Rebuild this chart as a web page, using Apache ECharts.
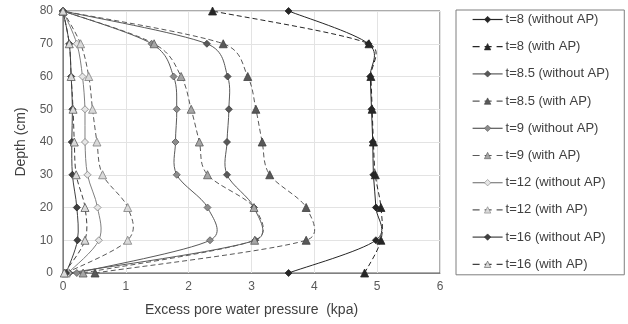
<!DOCTYPE html>
<html>
<head>
<meta charset="utf-8">
<script src="https://cdn.jsdelivr.net/npm/echarts@6/dist/echarts.min.js"></script>
<style>html,body{margin:0;padding:0;background:#fff}#c{width:628px;height:324px}</style>
</head>
<body>
<div id="c"></div>
<script>
var depths = [0, 10, 20, 30, 40, 50, 60, 70, 80];
var t8_noAP   = [3.59, 4.98, 4.98, 4.94, 4.93, 4.91, 4.89, 4.86, 3.59];
var t8_AP     = [4.80, 5.06, 5.06, 4.97, 4.94, 4.92, 4.90, 4.87, 2.38];
var t85_noAP  = [0.10, 3.06, 3.04, 2.61, 2.61, 2.64, 2.62, 2.29, 0];
var t85_AP    = [0.51, 3.87, 3.87, 3.29, 3.17, 3.07, 2.94, 2.55, 0];
var t9_noAP   = [0.22, 2.34, 2.30, 1.81, 1.79, 1.81, 1.76, 1.41, 0];
var t9_AP     = [0.32, 3.05, 3.04, 2.30, 2.17, 2.04, 1.88, 1.45, 0];
var t12_noAP  = [0.08, 0.57, 0.55, 0.39, 0.35, 0.35, 0.31, 0.22, 0];
var t12_AP    = [0.05, 1.03, 1.03, 0.63, 0.54, 0.47, 0.41, 0.28, 0];
var t16_noAP  = [0.05, 0.23, 0.22, 0.15, 0.14, 0.15, 0.13, 0.10, 0];
var t16_AP    = [0.02, 0.35, 0.35, 0.21, 0.18, 0.16, 0.13, 0.10, 0];
var xTicks = [0, 1, 2, 3, 4, 5, 6];
var yTicks = [0, 10, 20, 30, 40, 50, 60, 70, 80];

function pts(xs) { return xs.map(function (v, i) { return [v, depths[i]]; }); }

var defs = [
  { name: 't=8 (without AP)',   data: t8_noAP,  sym: 'diamond',  fill: '#262626', edge: '#262626', line: '#262626', dash: 'solid' },
  { name: 't=8 (with AP)',      data: t8_AP,    sym: 'triangle', fill: '#262626', edge: '#262626', line: '#262626', dash: [5, 3] },
  { name: 't=8.5 (without AP)', data: t85_noAP, sym: 'diamond',  fill: '#595959', edge: '#404040', line: '#595959', dash: 'solid' },
  { name: 't=8.5 (with AP)',    data: t85_AP,   sym: 'triangle', fill: '#595959', edge: '#404040', line: '#595959', dash: [5, 3] },
  { name: 't=9 (without AP)',   data: t9_noAP,  sym: 'diamond',  fill: '#8c8c8c', edge: '#595959', line: '#595959', dash: 'solid' },
  { name: 't=9 (with AP)',      data: t9_AP,    sym: 'triangle', fill: '#a6a6a6', edge: '#595959', line: '#595959', dash: [5, 3] },
  { name: 't=12 (without AP)',  data: t12_noAP, sym: 'diamond',  fill: '#e6e6e6', edge: '#7f7f7f', line: '#7f7f7f', dash: 'solid' },
  { name: 't=12 (with AP)',     data: t12_AP,   sym: 'triangle', fill: '#d9d9d9', edge: '#7f7f7f', line: '#595959', dash: [5, 3] },
  { name: 't=16 (without AP)',  data: t16_noAP, sym: 'diamond',  fill: '#404040', edge: '#262626', line: '#404040', dash: 'solid' },
  { name: 't=16 (with AP)',     data: t16_AP,   sym: 'triangle', fill: '#d9d9d9', edge: '#595959', line: '#404040', dash: [5, 3] }
];

// Excel-like smoothed curve through the axis-mapped data points
function handle(a, b, seg) {
  var hx = (b[0] - a[0]) / 6, hy = (b[1] - a[1]) / 6;
  var hl = Math.sqrt(hx * hx + hy * hy), lim = seg * 0.5;
  if (hl > lim && hl > 0) { hx *= lim / hl; hy *= lim / hl; }
  return [hx, hy];
}
function curveRenderer(d) {
  var data = pts(d.data);
  return function (params, api) {
    if (params.dataIndex !== 0) return null;
    var p = data.map(function (v) { return api.coord(v); });
    var n = p.length;
    var path = 'M' + p[0][0] + ' ' + p[0][1];
    for (var i = 0; i < n - 1; i++) {
      var p0 = p[i > 0 ? i - 1 : i], p1 = p[i], p2 = p[i + 1], p3 = p[i + 2 < n ? i + 2 : i + 1];
      var seg = Math.sqrt(Math.pow(p2[0] - p1[0], 2) + Math.pow(p2[1] - p1[1], 2));
      var h1 = handle(p0, p2, seg), h2 = handle(p1, p3, seg);
      path += ' C' + (p1[0] + h1[0]) + ' ' + (p1[1] + h1[1]) + ' ' + (p2[0] - h2[0]) + ' ' + (p2[1] - h2[1]) + ' ' + p2[0] + ' ' + p2[1];
    }
    return {
      type: 'path',
      shape: { pathData: path },
      style: { fill: 'none', stroke: d.line, lineWidth: 1, lineDash: d.dash === 'solid' ? null : d.dash }
    };
  };
}

var series = [];
defs.forEach(function (d) {
  series.push({
    name: d.name + ' curve',
    type: 'custom',
    coordinateSystem: 'cartesian2d',
    data: pts(d.data),
    encode: { x: 0, y: 1 },
    renderItem: curveRenderer(d),
    silent: true,
    z: 1
  });
});
defs.forEach(function (d) {
  series.push({
    name: d.name,
    type: 'line',
    data: pts(d.data),
    symbol: d.sym,
    symbolSize: d.sym === 'diamond' ? 7 : 8,
    showAllSymbol: true,
    itemStyle: { color: d.fill, borderColor: d.edge, borderWidth: 0.8 },
    lineStyle: { color: d.line, width: 0, opacity: 0, type: d.dash },
    z: 3
  });
});

var chart = echarts.init(document.getElementById('c'), null, { renderer: 'canvas' });
chart.setOption({
  animation: false,
  backgroundColor: '#fff',
  textStyle: { fontFamily: 'Liberation Sans' },
  grid: { left: 63, right: 188, top: 11, bottom: 51, show: true, borderColor: '#595959', borderWidth: 1 },
  xAxis: {
    type: 'value', min: 0, max: 6, interval: 1,
    name: 'Excess pore water pressure  (kpa)', nameLocation: 'middle', nameGap: 30,
    nameTextStyle: { fontSize: 14, color: '#404040', fontFamily: 'Liberation Sans' },
    axisLine: { show: true, lineStyle: { color: '#808080' } },
    axisTick: { show: false },
    axisLabel: { fontSize: 12, color: '#595959', margin: 8, formatter: function (v) { return xTicks.indexOf(v) >= 0 ? String(v) : ''; } },
    splitLine: { show: true, lineStyle: { color: '#e3e3e3', width: 1 } }
  },
  yAxis: {
    type: 'value', min: 0, max: 80, interval: 10,
    name: 'Depth (cm)', nameLocation: 'middle', nameGap: 35, nameRotate: 90,
    nameTextStyle: { fontSize: 14, color: '#404040', fontFamily: 'Liberation Sans' },
    axisLine: { show: true, lineStyle: { color: '#808080' } },
    axisTick: { show: false },
    axisLabel: { fontSize: 12, color: '#595959', margin: 10, formatter: function (v) { return yTicks.indexOf(v) >= 0 ? String(v) : ''; } },
    splitLine: { show: true, lineStyle: { color: '#e3e3e3', width: 1 } }
  },
  legend: {
    orient: 'vertical',
    left: 456, top: 10,
    padding: [3, 15, 4, 16],
    itemWidth: 30, itemHeight: 8,
    itemGap: 14.2,
    borderColor: '#7f7f7f', borderWidth: 1,
    textStyle: { fontSize: 13, color: '#404040', fontFamily: 'Liberation Sans', padding: [0, 0, 0, -2] },
    data: defs.map(function (d) {
      return {
        name: d.name,
        itemStyle: { color: d.fill, borderColor: d.edge, borderWidth: 0.6 },
        lineStyle: { color: d.line, width: 1.2, opacity: 1, type: d.dash === 'solid' ? 'solid' : [7, 5] }
      };
    })
  },
  series: series
});
</script>
</body>
</html>
